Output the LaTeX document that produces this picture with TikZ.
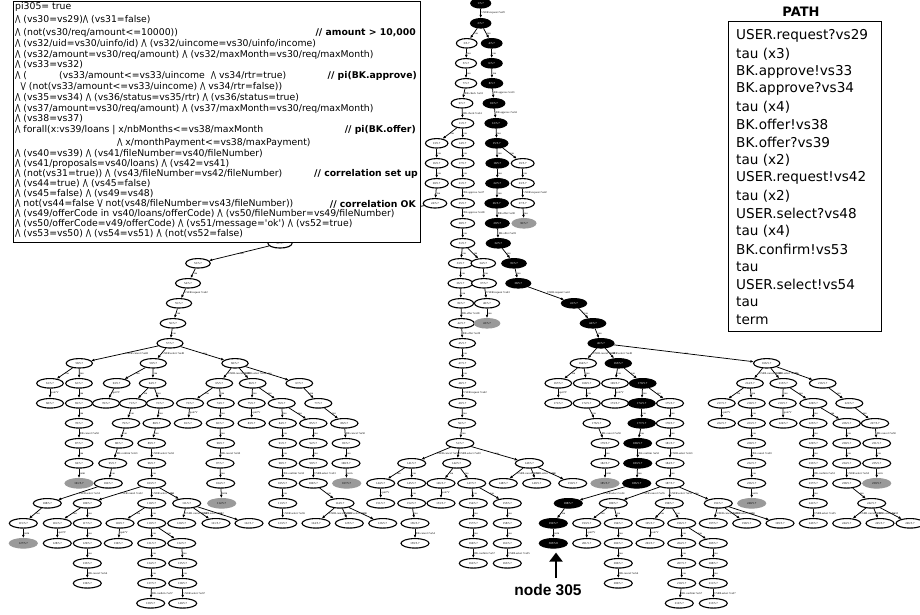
\documentclass[tikz,border=0pt]{standalone}
\usepackage{fontspec}
\setmainfont{DejaVu Sans}
\newfontfamily\tnr{Liberation Serif}
\newfontfamily\arialb{Liberation Sans}
\usetikzlibrary{shapes.geometric,arrows.meta}
\definecolor{grayn}{HTML}{9A9A9A}
\newcount\nid
\newcommand\nd[4]{\global\advance\nid by 1\relax\node[#1, minimum width={min(20+0.35*#4,28)}] (#2) at (#3,{3.3+20*#4}) {\the\nid/5.7};}
\newcommand\ed[3]{\draw[tedge] (#1) -- node[elab]{#3} (#2);}
\newcommand\AND{/\kern-0.1em\textbackslash}
\newcommand\OR{\textbackslash\kern-0.1em/}
\begin{document}
\begin{tikzpicture}[x=1pt,y=-1pt,
 tn/.style={ellipse, inner sep=0pt, minimum height=9.5pt, line width=1.1pt, font=\tnr\fontsize{3}{3}\selectfont},
 wn/.style={tn, draw=black, fill=white},
 bn/.style={tn, draw=black, fill=black, text=white},
 gn/.style={tn, draw=grayn, fill=grayn, text=black},
 tedge/.style={line width=0.75pt, -{Latex[length=3.2pt,width=2.8pt]}},
 elab/.style={font=\tnr\fontsize{2.8}{3}\selectfont, anchor=west, inner sep=0.6pt, text=black},
 lline/.style={anchor=west, inner sep=0pt, font=\fontsize{9.3}{10}\selectfont},
 cmt/.style={anchor=east, inner sep=0pt, font=\bfseries\fontsize{9.3}{10}\selectfont},
 pline/.style={anchor=west, inner sep=0pt, font=\fontsize{13.6}{15}\selectfont},
]
\useasboundingbox (0,0) rectangle (920,614);
% ---------- top chain
\nd{bn}{a0}{480.7}{0}
\nd{bn}{a1}{480.7}{1}
\nd{wn}{w2}{466.7}{2}
\nd{bn}{b2}{491.7}{2}
\nd{wn}{w3}{466}{3}
\nd{bn}{b3}{491.7}{3}
\nd{wn}{w4}{466}{4}
\nd{bn}{b4}{492}{4}
\nd{wn}{w5}{462}{5}
\nd{bn}{b5}{494}{5}
\nd{wn}{w6}{462.7}{6}
\nd{bn}{b6}{496}{6}
\nd{wn}{w7a}{436.7}{7}
\nd{wn}{w7b}{462.7}{7}
\nd{bn}{b7}{496.7}{7}
\nd{wn}{w8a}{436.7}{8}
\nd{wn}{w8b}{462.7}{8}
\nd{bn}{b8}{497.3}{8}
\nd{wn}{w8c}{522.7}{8}
\nd{wn}{w9a}{436.7}{9}
\nd{wn}{w9b}{462.7}{9}
\nd{bn}{b9}{497.3}{9}
\nd{wn}{w9c}{522.7}{9}
\nd{wn}{w10a}{435}{10}
\nd{wn}{w10b}{462.7}{10}
\nd{bn}{b10}{496.7}{10}
\nd{wn}{w10c}{522.7}{10}
\nd{wn}{w11b}{462.7}{11}
\nd{bn}{b11}{497.3}{11}
\nd{gn}{g11c}{524}{11}
\nd{wn}{w12b}{462.7}{12}
\nd{bn}{b12}{498.3}{12}
\nd{wn}{w13b}{460.7}{13}
\nd{wn}{w13c}{483.3}{13}
\nd{bn}{b13}{514}{13}
\nd{wn}{w14b}{460.5}{14}
\nd{wn}{w14c}{484}{14}
\nd{bn}{b14}{518.3}{14}
\nd{wn}{w15b}{461}{15}
\nd{wn}{w15c}{487}{15}
\nd{bn}{b15}{574}{15}
\nd{wn}{w16b}{461.5}{16}
\nd{gn}{g16c}{487}{16}
\nd{bn}{b16}{593}{16}
\nd{wn}{w17b}{462.5}{17}
\nd{bn}{b17}{601}{17}
\nd{wn}{w18b}{462.5}{18}
\nd{wn}{w19b}{462.5}{19}
\nd{wn}{w20b}{462.5}{20}
\nd{wn}{w21b}{462}{21}
\nd{wn}{M22}{460}{22}
% ---------- left chain (first node hidden under the box)
\node[wn, minimum width=24] (h11) at (340,{3.3+20*11}) {};
\nd{wn}{L12}{280}{12}
\nd{wn}{L13}{198}{13}
\nd{wn}{L14}{188}{14}
\nd{wn}{L15}{179}{15}
\nd{wn}{L16}{173}{16}
\nd{wn}{L17}{170}{17}
% ---------- left subtree
\nd{wn}{L18a}{79.3}{18}
\nd{wn}{L18b}{153.3}{18}
\nd{wn}{L18c}{235}{18}
\nd{wn}{L19a}{50}{19}
\nd{wn}{L19b}{79}{19}
\nd{wn}{L19c}{116.7}{19}
\nd{wn}{L19d}{152.7}{19}
\nd{wn}{L19e}{219.3}{19}
\nd{wn}{L19f}{252.7}{19}
\nd{wn}{L19g}{299.3}{19}
\nd{wn}{L20a}{50}{20}
\nd{wn}{L20b}{79}{20}
\nd{wn}{L20c}{106}{20}
\nd{wn}{L20d}{133}{20}
\nd{wn}{L20e}{160}{20}
\nd{wn}{L20f}{190}{20}
\nd{wn}{L20g}{220.7}{20}
\nd{wn}{L20h}{251.7}{20}
\nd{wn}{L20i}{281.7}{20}
\nd{wn}{L20j}{318.3}{20}
\nd{wn}{L21a}{79}{21}
\nd{wn}{L21b}{126}{21}
\nd{wn}{L21c}{156.7}{21}
\nd{wn}{L21d}{188}{21}
\nd{wn}{L21e}{220}{21}
\nd{wn}{L21f}{251.7}{21}
\nd{wn}{L21g}{282.7}{21}
\nd{wn}{L21h}{313.3}{21}
\nd{wn}{L21i}{344.3}{21}
\nd{wn}{L22a}{79}{22}
\nd{wn}{L22b}{119}{22}
\nd{wn}{L22c}{151.7}{22}
\nd{wn}{L22d}{220.7}{22}
\nd{wn}{L22e}{282.7}{22}
\nd{wn}{L22f}{313.3}{22}
\nd{wn}{L22g}{346}{22}
\nd{wn}{L23a}{79}{23}
\nd{wn}{L23b}{112.7}{23}
\nd{wn}{L23c}{151.7}{23}
\nd{wn}{L23d}{220}{23}
\nd{wn}{L23e}{282.7}{23}
\nd{wn}{L23f}{313.3}{23}
\nd{wn}{L23g}{346}{23}
\nd{gn}{L24a}{79}{24}
\nd{wn}{L24b}{108.3}{24}
\nd{wn}{L24c}{151.7}{24}
\nd{wn}{L24d}{220.7}{24}
\nd{wn}{L24e}{282.7}{24}
\nd{wn}{L24f}{313.3}{24}
\nd{gn}{L24g}{346.7}{24}
\nd{wn}{L25a}{47.3}{25}
\nd{wn}{L25b}{87.3}{25}
\nd{wn}{L25c}{151.7}{25}
\nd{wn}{L25d}{186.7}{25}
\nd{gn}{L25e}{221.7}{25}
\nd{wn}{L25f}{282.7}{25}
\nd{wn}{L25g}{340}{25}
\nd{wn}{L26a}{23.3}{26}
\nd{wn}{L26b}{57.3}{26}
\nd{wn}{L26c}{87.3}{26}
\nd{wn}{L26d}{120}{26}
\nd{wn}{L26e}{151.7}{26}
\nd{wn}{L26f}{181.7}{26}
\nd{wn}{L26g}{216}{26}
\nd{wn}{L26h}{249}{26}
\nd{wn}{L26i}{282.7}{26}
\nd{wn}{L26j}{316}{26}
\nd{wn}{L26k}{349.3}{26}
\nd{wn}{L26l}{382.7}{26}
\nd{gn}{L27a}{23.3}{27}
\nd{wn}{L27b}{57.3}{27}
\nd{wn}{L27c}{87.3}{27}
\nd{wn}{L27d}{118.3}{27}
\nd{wn}{L27e}{151.7}{27}
\nd{wn}{L27f}{181.7}{27}
\nd{wn}{L28a}{87.3}{28}
\nd{wn}{L28b}{151.7}{28}
\nd{wn}{L28c}{182.7}{28}
\nd{wn}{L29a}{87.3}{29}
\nd{wn}{L29b}{151.7}{29}
\nd{wn}{L29c}{182.7}{29}
\nd{wn}{L30a}{150.7}{30}
\nd{wn}{L30b}{182.7}{30}
% ---------- middle subtree
\nd{wn}{M23a}{411.7}{23}
\nd{wn}{M23b}{456.7}{23}
\nd{wn}{M23c}{529.3}{23}
\nd{wn}{M24a}{380.7}{24}
\nd{wn}{M24b}{411.7}{24}
\nd{wn}{M24c}{441}{24}
\nd{wn}{M24d}{471.7}{24}
\nd{wn}{M24e}{503.3}{24}
\nd{wn}{M24f}{536.7}{24}
\nd{wn}{M24g}{572.7}{24}
\nd{wn}{M25a}{380.7}{25}
\nd{wn}{M25b}{411.7}{25}
\nd{wn}{M25c}{441}{25}
\nd{wn}{M25d}{473.3}{25}
\nd{wn}{M25e}{507.3}{25}
\nd{wn}{M26a}{415}{26}
\nd{wn}{M26b}{473.3}{26}
\nd{wn}{M26c}{507.3}{26}
\nd{wn}{M27a}{415}{27}
\nd{wn}{M27b}{473.3}{27}
\nd{wn}{M27c}{507.3}{27}
\nd{wn}{M28a}{473.3}{28}
\nd{wn}{M28b}{507.3}{28}
% ---------- path subtree
\nd{wn}{P18a}{583.3}{18}
\nd{bn}{P18b}{618.3}{18}
\nd{wn}{R18}{766.7}{18}
\nd{wn}{P19a}{558.3}{19}
\nd{wn}{P19b}{586.7}{19}
\nd{wn}{P19c}{615}{19}
\nd{bn}{P19d}{642.7}{19}
\nd{wn}{P20a}{558.3}{20}
\nd{wn}{P20b}{586.7}{20}
\nd{wn}{P20c}{615}{20}
\nd{bn}{P20d}{641.7}{20}
\nd{wn}{P20e}{670}{20}
\nd{wn}{P21a}{596.7}{21}
\nd{bn}{P21b}{641.7}{21}
\nd{wn}{P21c}{670}{21}
\nd{wn}{P22a}{605}{22}
\nd{bn}{P22b}{637.7}{22}
\nd{wn}{P22c}{670}{22}
\nd{wn}{P23a}{605}{23}
\nd{bn}{P23b}{637.7}{23}
\nd{wn}{P23c}{670}{23}
\nd{gn}{P24a}{605}{24}
\nd{bn}{P24b}{636.7}{24}
\nd{wn}{P24c}{670}{24}
\nd{bn}{P25a}{568.3}{25}
\nd{wn}{P25b}{613.3}{25}
\nd{wn}{P25c}{669.3}{25}
\nd{wn}{P25d}{718.3}{25}
\nd{bn}{P26a}{553.3}{26}
\nd{wn}{P26b}{586.7}{26}
\nd{wn}{P26c}{618.3}{26}
\nd{wn}{P26d}{650}{26}
\nd{wn}{P26e}{681.7}{26}
\nd{wn}{P26f}{713.3}{26}
\nd{wn}{P26g}{746.7}{26}
\nd{wn}{P26h}{780}{26}
\global\advance\nid by 1\relax
\node[bn, minimum width=28] (P27a) at (553.3,{3.3+20*27}) {305/5.8};
\nd{wn}{P27b}{586.7}{27}
\nd{wn}{P27c}{618.3}{27}
\nd{wn}{P27d}{650}{27}
\nd{wn}{P27e}{681.7}{27}
\nd{wn}{P27f}{713.3}{27}
\nd{wn}{P28a}{618.3}{28}
\nd{wn}{P28b}{681.7}{28}
\nd{wn}{P28c}{713.3}{28}
\nd{wn}{P29a}{618.3}{29}
\nd{wn}{P29b}{681.7}{29}
\nd{wn}{P29c}{713.3}{29}
\nd{wn}{P30a}{679.3}{30}
\nd{wn}{P30b}{713.3}{30}
% ---------- right subtree
\nd{wn}{R19a}{750}{19}
\nd{wn}{R19b}{783.3}{19}
\nd{wn}{R19c}{822.7}{19}
\nd{wn}{R20a}{721.7}{20}
\nd{wn}{R20b}{751.7}{20}
\nd{wn}{R20c}{782.7}{20}
\nd{wn}{R20d}{813.3}{20}
\nd{wn}{R20e}{849.3}{20}
\nd{wn}{R21a}{721.7}{21}
\nd{wn}{R21b}{751.7}{21}
\nd{wn}{R21c}{783.3}{21}
\nd{wn}{R21d}{813.3}{21}
\nd{wn}{R21e}{846.7}{21}
\nd{wn}{R21f}{875}{21}
\nd{wn}{R22a}{751.7}{22}
\nd{wn}{R22b}{813.3}{22}
\nd{wn}{R22c}{846.7}{22}
\nd{wn}{R22d}{876.7}{22}
\nd{wn}{R23a}{751.7}{23}
\nd{wn}{R23b}{813.3}{23}
\nd{wn}{R23c}{846.7}{23}
\nd{wn}{R23d}{876.7}{23}
\nd{wn}{R24a}{751.7}{24}
\nd{wn}{R24b}{813.3}{24}
\nd{wn}{R24c}{846.7}{24}
\nd{gn}{R24d}{876.7}{24}
\nd{gn}{R25a}{751.7}{25}
\nd{wn}{R25b}{813.3}{25}
\nd{wn}{R25c}{871.7}{25}
\nd{wn}{R26b}{813.3}{26}
\nd{wn}{R26c}{846.7}{26}
\nd{wn}{R26d}{880}{26}
\nd{wn}{R26e}{910}{26}
% ================= edges
\ed{a0}{a1}{USER.request ?vs29}
\ed{a1}{w2}{tau}\ed{a1}{b2}{tau}
\ed{w2}{w3}{tau}\ed{b2}{b3}{tau}
\ed{w3}{w4}{tau}\ed{b3}{b4}{tau}
\ed{w4}{w5}{BK.check !vs33}\ed{b4}{b5}{BK.approve !vs33}
\ed{w5}{w6}{BK.check ?vs34}\ed{b5}{b6}{BK.approve ?vs34}
\ed{w6}{w7a}{tau}\ed{w6}{w7b}{tau}\ed{b6}{b7}{tau}
\ed{w7a}{w8a}{tau}\ed{w7b}{w8b}{tau}\ed{b7}{b8}{tau}\ed{b7}{w8c}{tau}
\ed{w8a}{w9a}{tau}\ed{w8b}{w9b}{tau}\ed{b8}{b9}{tau}\ed{w8c}{w9c}{tau}
\ed{w9a}{w10a}{tau}\ed{w9b}{w10b}{BK.approve !vs37}\ed{b9}{b10}{tau}\ed{w9c}{w10c}{USER.request ?vs42}
\ed{w10b}{w11b}{BK.approve ?vs38}\ed{b10}{b11}{BK.offer !vs38}\ed{w10c}{g11c}{tau}
\ed{w11b}{w12b}{tau}\ed{b11}{b12}{BK.offer ?vs39}
\ed{w12b}{w13b}{tau}\ed{w12b}{w13c}{tau}\ed{b12}{b13}{tau}
\ed{w13b}{w14b}{tau}\ed{w13c}{w14c}{tau}\ed{b13}{b14}{tau}
\ed{w14b}{w15b}{tau}\ed{w14c}{w15c}{USER.request ?vs43}\ed{b14}{b15}{USER.request !vs42}
\ed{w15b}{w16b}{BK.offer ?vs38}\ed{w15c}{g16c}{tau}\ed{b15}{b16}{tau}
\ed{w16b}{w17b}{BK.offer ?vs39}\ed{b16}{b17}{tau}
\ed{w17b}{w18b}{tau}\ed{w18b}{w19b}{tau}\ed{w19b}{w20b}{USER.request ?vs42}\ed{w20b}{w21b}{tau}\ed{w21b}{M22}{tau}
\draw[tedge] (w10a) -- (h11);
\draw[tedge] (h11) -- (L12);
\ed{L12}{L13}{tau}\ed{L13}{L14}{tau}
\ed{L14}{L15}{USER.request ?vs42}\ed{L15}{L16}{tau}\ed{L16}{L17}{tau}
% left subtree
\ed{L17}{L18a}{USER.cancel ?vs48}\ed{L17}{L18b}{USER.select ?vs48}\ed{L17}{L18c}{tau}
\ed{L18a}{L19a}{tau}\ed{L18a}{L19b}{tau}\ed{L18b}{L19c}{tau}\ed{L18b}{L19d}{tau}
\ed{L18c}{L19e}{USER.cancel ?vs49}\ed{L18c}{L19f}{USER.select ?vs49}\ed{L18c}{L19g}{tau}
\ed{L19a}{L20a}{quit?V}\ed{L19b}{L20b}{tau}\ed{L19c}{L20c}{quit?V}\ed{L19d}{L20d}{tau}\ed{L19d}{L20e}{tau}
\ed{L19e}{L20f}{tau}\ed{L19e}{L20g}{tau}\ed{L19f}{L20h}{tau}\ed{L19f}{L20i}{tau}\ed{L19g}{L20j}{tau}
\ed{L20b}{L21a}{tau}\ed{L20d}{L21b}{tau}\ed{L20e}{L21c}{tau}\ed{L20f}{L21d}{quit?V}\ed{L20g}{L21e}{tau}
\ed{L20h}{L21f}{quit?V}\ed{L20i}{L21g}{tau}\ed{L20i}{L21h}{tau}\ed{L20j}{L21i}{tau}
\ed{L21a}{L22a}{BK.cancel ?vs50}\ed{L21b}{L22b}{tau}\ed{L21c}{L22c}{tau}\ed{L21e}{L22d}{tau}
\ed{L21g}{L22e}{tau}\ed{L21h}{L22f}{tau}\ed{L21i}{L22g}{BK.cancel ?vs50}
\ed{L22a}{L23a}{tau}\ed{L22b}{L23b}{BK.confirm ?vs53}\ed{L22c}{L23c}{USER.select ?vs53}\ed{L22d}{L23d}{BK.cancel ?vs50}
\ed{L22e}{L23e}{tau}\ed{L22f}{L23f}{tau}\ed{L22g}{L23g}{tau}
\ed{L23a}{L24a}{term}\ed{L23b}{L24b}{tau}\ed{L23c}{L24c}{tau}\ed{L23d}{L24d}{tau}
\ed{L23e}{L24e}{BK.confirm ?vs53}\ed{L23f}{L24f}{USER.select ?vs53}\ed{L23g}{L24g}{term}
\ed{L24b}{L25a}{USER.select ?vs52}\ed{L24c}{L25b}{USER.cancel ?vs52}\ed{L24c}{L25c}{USER.select ?vs52}\ed{L24c}{L25d}{tau}
\ed{L24d}{L25e}{term}\ed{L24e}{L25f}{tau}\ed{L24f}{L25g}{tau}
\ed{L25a}{L26a}{tau}\ed{L25b}{L26b}{tau}\ed{L25b}{L26c}{tau}\ed{L25c}{L26d}{tau}\ed{L25c}{L26e}{tau}
\ed{L25d}{L26f}{USER.cancel ?vs52}\ed{L25d}{L26g}{USER.select ?vs52}\ed{L25d}{L26h}{tau}
\ed{L25f}{L26i}{USER.select ?vs55}\ed{L25g}{L26j}{USER.cancel ?vs55}\ed{L25g}{L26k}{USER.select ?vs55}\ed{L25g}{L26l}{tau}
\ed{L26a}{L27a}{term}\ed{L26b}{L27b}{quit?V}\ed{L26c}{L27c}{tau}\ed{L26d}{L27d}{quit?V}\ed{L26e}{L27e}{tau}\ed{L26e}{L27f}{tau}
\ed{L27c}{L28a}{tau}\ed{L27e}{L28b}{tau}\ed{L27f}{L28c}{tau}
\ed{L28a}{L29a}{BK.cancel ?vs54}\ed{L28b}{L29b}{tau}\ed{L28c}{L29c}{tau}
\ed{L29b}{L30a}{BK.confirm ?vs57}\ed{L29c}{L30b}{USER.select ?vs57}
% middle subtree
\ed{M22}{M23a}{USER.cancel ?vs50}\ed{M22}{M23b}{USER.select ?vs50}\ed{M22}{M23c}{tau}
\ed{M23a}{M24a}{tau}\ed{M23a}{M24b}{tau}\ed{M23b}{M24c}{tau}\ed{M23b}{M24d}{tau}
\ed{M23c}{M24e}{USER.cancel ?vs52}\ed{M23c}{M24f}{USER.select ?vs52}\ed{M23c}{M24g}{tau}
\ed{M24a}{M25a}{quit?V}\ed{M24b}{M25b}{tau}\ed{M24c}{M25c}{quit?V}\ed{M24d}{M25d}{tau}\ed{M24d}{M25e}{tau}
\ed{M25b}{M26a}{tau}\ed{M25d}{M26b}{tau}\ed{M25e}{M26c}{tau}
\ed{M26a}{M27a}{BK.cancel ?vs54}\ed{M26b}{M27b}{tau}\ed{M26c}{M27c}{tau}
\ed{M27b}{M28a}{BK.confirm ?vs57}\ed{M27c}{M28b}{USER.select ?vs55}
% path subtree
\ed{b17}{P18a}{USER.cancel ?vs48}\ed{b17}{P18b}{USER.select ?vs48}\ed{b17}{R18}{tau}
\ed{P18a}{P19a}{tau}\ed{P18a}{P19b}{tau}\ed{P18b}{P19c}{tau}\ed{P18b}{P19d}{tau}
\ed{P19a}{P20a}{quit?V}\ed{P19b}{P20b}{tau}\ed{P19c}{P20c}{quit?V}\ed{P19d}{P20d}{tau}\ed{P19d}{P20e}{tau}
\ed{P20b}{P21a}{tau}\ed{P20d}{P21b}{tau}\ed{P20e}{P21c}{tau}
\ed{P21a}{P22a}{BK.cancel ?vs50}\ed{P21b}{P22b}{tau}\ed{P21c}{P22c}{tau}
\ed{P22a}{P23a}{tau}\ed{P22b}{P23b}{BK.confirm !vs53}\ed{P22c}{P23c}{USER.select ?vs53}
\ed{P23a}{P24a}{term}\ed{P23b}{P24b}{tau}\ed{P23c}{P24c}{tau}
\ed{P24b}{P25a}{USER.select !vs54}\ed{P24c}{P25b}{USER.cancel ?vs55}\ed{P24c}{P25c}{USER.select ?vs55}\ed{P24c}{P25d}{tau}
\ed{P25a}{P26a}{tau}\ed{P25b}{P26b}{tau}\ed{P25b}{P26c}{tau}\ed{P25c}{P26d}{tau}\ed{P25c}{P26e}{tau}
\ed{P25d}{P26f}{USER.cancel ?vs55}\ed{P25d}{P26g}{USER.select ?vs55}\ed{P25d}{P26h}{tau}
\ed{P26a}{P27a}{term}\ed{P26b}{P27b}{quit?V}\ed{P26c}{P27c}{tau}\ed{P26d}{P27d}{quit?V}\ed{P26e}{P27e}{tau}\ed{P26e}{P27f}{tau}
\ed{P27c}{P28a}{tau}\ed{P27e}{P28b}{tau}\ed{P27f}{P28c}{tau}
\ed{P28a}{P29a}{BK.cancel ?vs54}\ed{P28b}{P29b}{tau}\ed{P28c}{P29c}{tau}
\ed{P29b}{P30a}{BK.confirm ?vs57}\ed{P29c}{P30b}{USER.select ?vs57}
% right subtree
\ed{R18}{R19a}{USER.cancel ?vs48}\ed{R18}{R19b}{USER.select ?vs48}\ed{R18}{R19c}{tau}
\ed{R19a}{R20a}{tau}\ed{R19a}{R20b}{tau}\ed{R19b}{R20c}{tau}\ed{R19b}{R20d}{tau}\ed{R19c}{R20e}{tau}
\ed{R20a}{R21a}{quit?V}\ed{R20b}{R21b}{tau}\ed{R20c}{R21c}{quit?V}\ed{R20d}{R21d}{tau}\ed{R20d}{R21e}{tau}\ed{R20e}{R21f}{tau}
\ed{R21b}{R22a}{tau}\ed{R21d}{R22b}{tau}\ed{R21e}{R22c}{tau}\ed{R21f}{R22d}{BK.cancel ?vs50}
\ed{R22a}{R23a}{BK.cancel ?vs50}\ed{R22b}{R23b}{tau}\ed{R22c}{R23c}{tau}\ed{R22d}{R23d}{tau}
\ed{R23a}{R24a}{tau}\ed{R23b}{R24b}{BK.confirm ?vs53}\ed{R23c}{R24c}{USER.select ?vs53}\ed{R23d}{R24d}{term}
\ed{R24a}{R25a}{term}\ed{R24b}{R25b}{tau}\ed{R24c}{R25c}{tau}
\ed{R25b}{R26b}{USER.select ?vs55}\ed{R25c}{R26c}{USER.cancel ?vs55}\ed{R25c}{R26d}{USER.select ?vs55}\ed{R25c}{R26e}{tau}
% ================= node 305 marker
\node[font=\arialb\bfseries\fontsize{15.5}{16}\selectfont, inner sep=0pt] (lab305) at (548,590) {node 305};
\draw[line width=2.6pt, -{Triangle[length=9pt,width=13pt]}] ([xshift=8pt,yshift=6pt]lab305.north) -- ([xshift=2.7pt,yshift=-4pt]P27a.south);
% ================= constraint box
\node[draw=black, fill=white, line width=0.9pt, anchor=north west, inner sep=0pt, minimum width=407.5pt, minimum height=241pt] (cbox) at (12.5,0.5) {};
\node[lline] (t1) at (15,7) {pi305= true};
\node[lline] (t2) at (15,20) {\AND{} (vs30=vs29)\AND{} (vs31=false)};
\node[lline] (t3) at (15,33) {\AND{} (not(vs30/req/amount<=10000))};
\node[lline] (t4) at (15,44) {\AND{} (vs32/uid=vs30/uinfo/id) \AND{} (vs32/uincome=vs30/uinfo/income)};
\node[lline] (t5) at (15,55) {\AND{} (vs32/amount=vs30/req/amount) \AND{} (vs32/maxMonth=vs30/req/maxMonth)};
\node[lline] (t6) at (15,65) {\AND{} (vs33=vs32)};
\node[lline] (t7) at (15,76) {\AND{} (};
\node[lline] (t7b) at (59,76) {(vs33/amount<=vs33/uincome\ \ \AND{} vs34/rtr=true)};
\node[lline] (t8) at (20.5,87) {\OR{} (not(vs33/amount<=vs33/uincome) \AND{} vs34/rtr=false))};
\node[lline] (t9) at (15,98) {\AND{} (vs35=vs34) \AND{} (vs36/status=vs35/rtr) \AND{} (vs36/status=true)};
\node[lline] (t10) at (15,109) {\AND{} (vs37/amount=vs30/req/amount) \AND{} (vs37/maxMonth=vs30/req/maxMonth)};
\node[lline] (t11) at (15,119) {\AND{} (vs38=vs37)};
\node[lline] (t12) at (15,130) {\AND{} forall(x:vs39/loans | x/nbMonths<=vs38/maxMonth};
\node[lline] (t13) at (117,143) {\AND{} x/monthPayment<=vs38/maxPayment)};
\node[lline] (t14) at (15,154) {\AND{} (vs40=vs39) \AND{} (vs41/fileNumber=vs40/fileNumber)};
\node[lline] (t15) at (15,164) {\AND{} (vs41/proposals=vs40/loans) \AND{} (vs42=vs41)};
\node[lline] (t16) at (15,174) {\AND{} (not(vs31=true)) \AND{} (vs43/fileNumber=vs42/fileNumber)};
\node[lline] (t17) at (15,184) {\AND{} (vs44=true) \AND{} (vs45=false)};
\node[lline] (t18) at (15,194) {\AND{} (vs45=false) \AND{} (vs49=vs48)};
\node[lline] (t19) at (15,204) {\AND{} not(vs44=false \OR{} not(vs48/fileNumber=vs43/fileNumber))};
\node[lline] (t20) at (15,214) {\AND{} (vs49/offerCode in vs40/loans/offerCode) \AND{} (vs50/fileNumber=vs49/fileNumber)};
\node[lline] (t21) at (15,224) {\AND{} (vs50/offerCode=v49/offerCode) \AND{} (vs51/message=\textquotesingle ok\textquotesingle) \AND{} (vs52=true)};
\node[lline] (t22) at (15,234) {\AND{} (vs53=vs50) \AND{} (vs54=vs51) \AND{} (not(vs52=false)};
\node[cmt] (c3) at (416,33) {// amount > 10,000};
\node[cmt] (c7) at (417,76) {// pi(BK.approve)};
\node[cmt] (c12) at (416,130) {// pi(BK.offer)};
\node[cmt] (c16) at (418,174) {// correlation set up};
\node[cmt] (c19) at (416,204) {// correlation OK};
% ================= PATH box
\node[font=\bfseries\fontsize{13}{14}\selectfont, inner sep=0pt] (ptitle) at (801,11.7) {PATH};
\node[draw=black, line width=0.9pt, anchor=north west, inner sep=0pt, minimum width=153pt, minimum height=310pt] (pbox) at (728,20.7) {};
\foreach \t [count=\i] in {USER.request?vs29, tau (x3), BK.approve!vs33, BK.approve?vs34, tau (x4), BK.offer!vs38, BK.offer?vs39, tau (x2), USER.request!vs42, tau (x2), USER.select?vs48, tau (x4), BK.confirm!vs53, tau, USER.select!vs54, tau, term}
  \node[pline] (p\i) at (736,{36+17.75*(\i-1)}) {\t};
\end{tikzpicture}
\end{document}
